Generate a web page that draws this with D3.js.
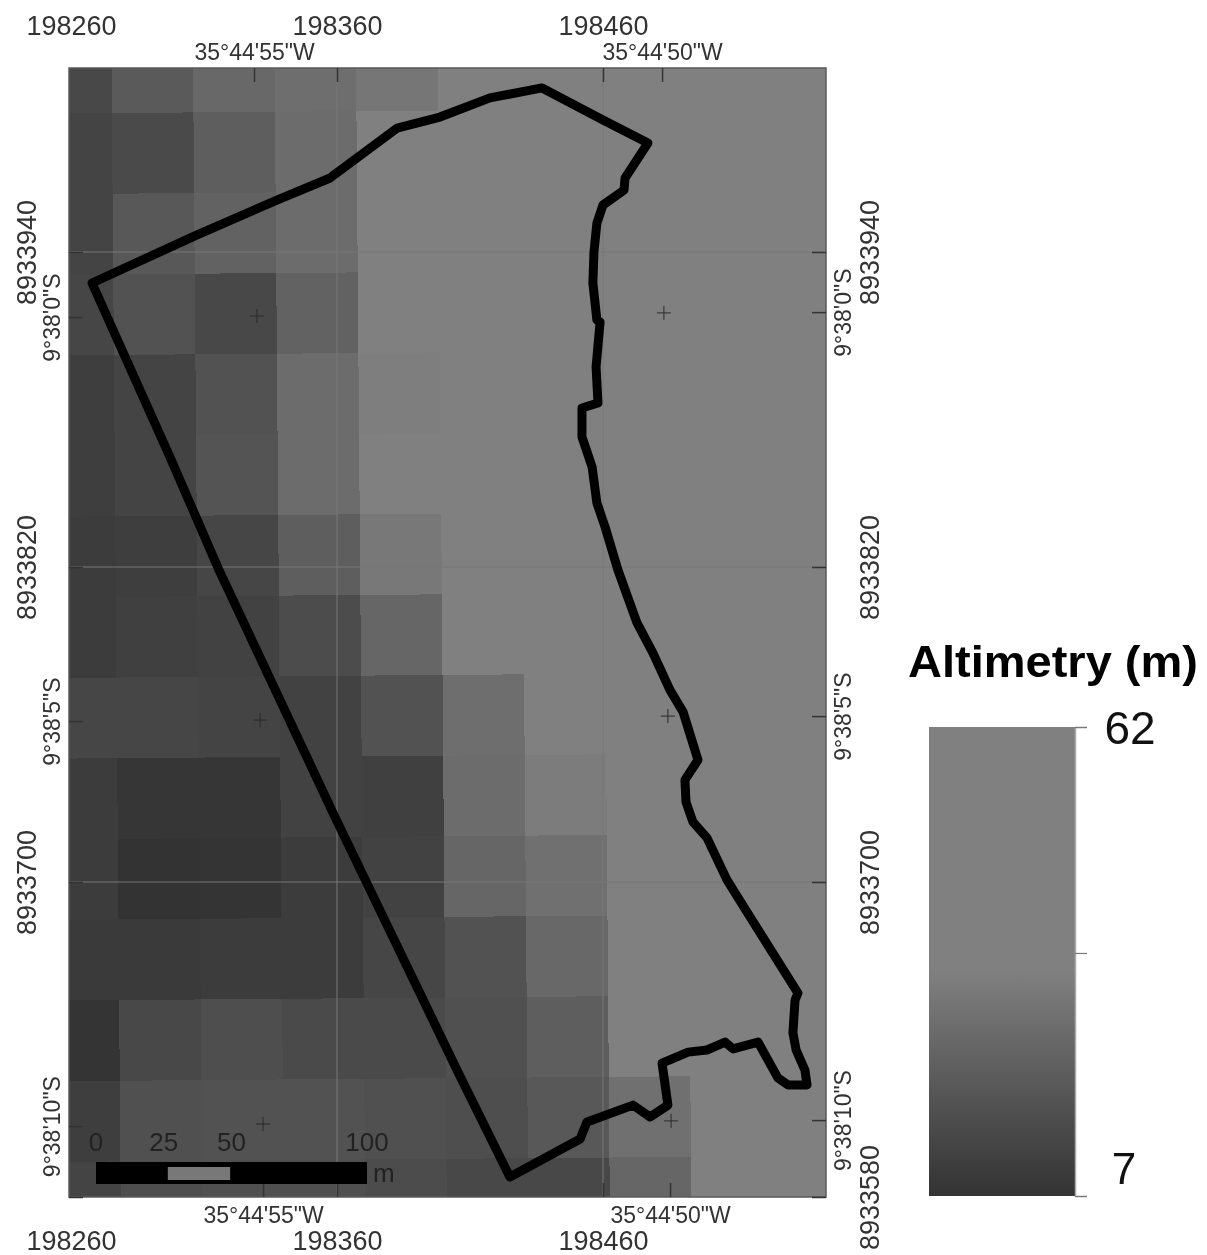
<!DOCTYPE html>
<html>
<head>
<meta charset="utf-8">
<script src="https://cdnjs.cloudflare.com/ajax/libs/d3/7.8.5/d3.min.js"></script>
<style>
    html, body { margin: 0; padding: 0; background: #fff; }
    svg { display: block; filter: blur(0.5px); }
    text { font-family: "Liberation Sans", Arial, sans-serif; fill: #333; }
    .tick line { stroke: #333; stroke-width: 1.5; }
</style>
</head>
<body>
<svg id="map_svg" width="1207" height="1255"></svg>
<script>
// altitude (m) of each raster cell, one list per row, north to south
const altitudeRows = [
    [14.2, 20.4, 25.2, 27.3, 30.0, 40, 48, 48, 48, 48],
    [12.8, 14.9, 21.8, 26.6, 48, 48, 48, 48, 48, 48],
    [12.8, 19.7, 23.2, 26.6, 48, 48, 48, 48, 48, 48],
    [13.5, 17.7, 14.2, 23.2, 48, 48, 48, 48, 48, 48],
    [10.8, 12.8, 17.7, 26.6, 32.8, 48, 48, 48, 48, 48],
    [10.8, 12.8, 18.4, 26.6, 40, 48, 48, 48, 48, 48],
    [10.1, 10.8, 13.5, 21.8, 30.7, 48, 48, 48, 48, 48],
    [10.1, 11.5, 12.2, 15.6, 24.5, 40, 48, 48, 48, 48],
    [13.5, 13.5, 12.8, 12.2, 17.7, 27.3, 48, 48, 48, 48],
    [10.1, 8.0, 8.0, 12.2, 11.5, 26.6, 32.1, 48, 48, 48],
    [10.1, 7.0, 7.3, 10.1, 12.2, 24.5, 28.0, 48, 48, 48],
    [9.4, 9.4, 10.1, 10.1, 13.5, 17.7, 25.2, 48, 48, 48],
    [7.3, 14.2, 16.3, 14.9, 14.9, 17.0, 21.8, 48, 48, 48],
    [10.8, 17.0, 17.7, 17.7, 17.0, 16.3, 19.7, 28.0, 48, 48],
    [12.8, 16.3, 17.0, 17.0, 15.6, 14.2, 14.2, 24.5, 48, 48]
];

// study area boundary (UTM easting / northing)
const boundaryE = [198267.9, 198307.4, 198337.4, 198357.4, 198382.6, 198398.7, 198417.5, 198437.1, 198460, 198476.9,
    198468.3, 198467.9, 198460, 198457.7, 198456.6, 198456.2, 198457.7, 198458.9, 198457.4, 198458.1,
    198452.1, 198452.1, 198455.9, 198457.7, 198460.8, 198465.6, 198472.8, 198478.8, 198485.2, 198490.1,
    198495.7, 198490.8, 198491.2, 198493.8, 198499.1, 198506.6, 198514.1, 198533.3, 198532.2, 198531.4,
    198532.6, 198535.9, 198536.7, 198529.6, 198525.8, 198518.3, 198508.9, 198505.9, 198499.1, 198492,
    198482.2, 198484.4, 198477.7, 198471.3, 198454, 198451.4, 198425, 198405.1, 198359.2, 198315.3, 198297.2];
const boundaryN = [8933928.2, 8933946.5, 8933959.8, 8933968.2, 8933987.2, 8933991.4, 8933998.7, 8934002.5, 8933990.3, 8933981.5,
    8933968.2, 8933963.6, 8933957.9, 8933951, 8933940, 8933928.2, 8933914.1, 8933913.3, 8933896.2, 8933882.5,
    8933880.6, 8933869.5, 8933858.1, 8933844.4, 8933835.2, 8933818.9, 8933798.7, 8933787.2, 8933773.1, 8933764.8,
    8933746.5, 8933738.9, 8933730.5, 8933722.9, 8933716.8, 8933700.8, 8933688.6, 8933657.7, 8933655, 8933642.5,
    8933636, 8933628.4, 8933622.7, 8933622.7, 8933625.3, 8933639, 8933636.4, 8933639, 8933636, 8933635.2,
    8933631, 8933615, 8933610.5, 8933615, 8933608.6, 8933602.1, 8933587.6, 8933628.4, 8933724.8, 8933819.6, 8933861.9];

// UTM ticks
const eastTicks = [198260, 198360, 198460];
const northLeftTicks = [8933940, 8933820, 8933700, 8933580];
const northRightTicks = [8933940, 8933820, 8933700, 8933580];

// geographic ticks, same position in UTM
const lonTopE = [198328.8, 198482.2];
const lonBottomE = [198332.2, 198485.2];
const lonLabels = ['35°44\'55"W', '35°44\'50"W'];
const latLeftN = [8933915.2, 8933761.3, 8933607];
const latRightN = [8933917.1, 8933763.2, 8933609.3];
const latLabels = ['9°38\'0"S', '9°38\'5"S', '9°38\'10"S'];
const crossE = [198329.9, 198482.9, 198331.1, 198484.4, 198332.2, 198485.6];
const crossN = [8933915.6, 8933916.8, 8933761.7, 8933763.2, 8933607.8, 8933609];

const scaleBarTicks = [0, 25, 50, 100];
const legendAltitudes = [7, 33.5, 62];
const legendTicks = [62, 35.5, 7];

const svg = d3.select("#map_svg");
const frame = {left: 69, right: 826, top: 68, bottom: 1197};

const x = d3.scaleLinear().domain([198260, 198460]).range([71, 603]);
const y = d3.scaleLinear().domain([8933580, 8933940]).range([frame.bottom, 252]);
const gray = d3.scaleLinear().domain([7, 33.5]).range(["#333333", "#808080"]).clamp(true);

svg.append("clipPath").attr("id", "frame_clip").append("rect")
    .attr("x", frame.left).attr("y", frame.top)
    .attr("width", frame.right - frame.left).attr("height", frame.bottom - frame.top);

let g = svg.append("g").attr("clip-path", "url(#frame_clip)");

// raster cells, grid is slightly rotated against UTM
const cellE = 30.64, cellN = 30.72, originE = 198244.5, originN = 8934023.4, skew = 0.008;
function corner(col, row) {
    return [x(originE + col * cellE + row * cellN * skew), y(originN - row * cellN + col * cellE * skew)];
}
altitudeRows.forEach(function (values, row) {
    g.append("g").selectAll("path").data(values).join("path")
        .attr("d", (d, col) => "M" + [corner(col, row), corner(col + 1, row), corner(col + 1, row + 1), corner(col, row + 1)].join("L") + "Z")
        .attr("fill", d => gray(d))
        .attr("shape-rendering", "crispEdges");
});

// UTM grid lines
g.append("g").selectAll("line").data(eastTicks.slice(1)).join("line")
    .attr("x1", d => x(d)).attr("x2", d => x(d)).attr("y1", frame.top).attr("y2", frame.bottom)
    .attr("stroke", "#777").attr("stroke-width", 1);
g.append("g").selectAll("line").data(northLeftTicks.slice(0, 3)).join("line")
    .attr("x1", frame.left).attr("x2", frame.right).attr("y1", d => y(d)).attr("y2", d => y(d))
    .attr("stroke", "#777").attr("stroke-width", 1);

// lat/lon crosses
g.append("g").selectAll("path").data(crossE).join("path")
    .attr("d", (d, i) => {
        let cx = x(d), cy = y(crossN[i]);
        return "M" + (cx - 7) + "," + cy + "H" + (cx + 7) + "M" + cx + "," + (cy - 7) + "V" + (cy + 7);
    })
    .attr("stroke", "#2a2a2a").attr("stroke-width", 1).attr("fill", "none");

// boundary
g.append("path")
    .datum(boundaryE.map((d, i) => [x(d), y(boundaryN[i])]))
    .attr("d", d3.line().curve(d3.curveLinearClosed))
    .attr("fill", "none")
    .attr("stroke", "#000")
    .attr("stroke-width", 9)
    .attr("stroke-linejoin", "round");

// frame
svg.append("rect")
    .attr("x", frame.left).attr("y", frame.top)
    .attr("width", frame.right - frame.left).attr("height", frame.bottom - frame.top)
    .attr("fill", "none").attr("stroke", "#5a5a5a").attr("stroke-width", 1.5);

function drawAxis(axis, transform, values, padding, size, format) {
    let a = svg.append("g").attr("transform", transform)
        .call(axis.tickValues(values).tickSizeInner(-14).tickSizeOuter(0).tickPadding(padding).tickFormat(format));
    a.select(".domain").remove();
    a.selectAll("text").style("font-size", size + "px").style("fill", "#333");
    a.selectAll(".tick line").filter(d => d === 198260).remove();
    return a;
}
function rotateLabels(a, offset) {
    a.selectAll("text")
        .attr("x", offset).attr("dy", "0.35em")
        .attr("text-anchor", "middle")
        .attr("transform", "rotate(-90 " + offset + " 0)");
}
function byIndex(list, values) {
    return d => list[values.indexOf(d)];
}

// UTM axes
drawAxis(d3.axisTop(x), "translate(0," + frame.top + ")", eastTicks, 33, 27, d3.format("d"));
drawAxis(d3.axisBottom(x), "translate(0," + frame.bottom + ")", eastTicks, 34, 27, d3.format("d"));
let leftUtm = drawAxis(d3.axisLeft(y), "translate(" + frame.left + ",0)", northLeftTicks, 30, 27, d => d === 8933580 ? "" : d);
rotateLabels(leftUtm, -42);
let rightUtm = drawAxis(d3.axisRight(y), "translate(" + frame.right + ",0)", northRightTicks, 30, 27, d3.format("d"));
rotateLabels(rightUtm, 44);

// lat/lon axes
drawAxis(d3.axisTop(x), "translate(0," + frame.top + ")", lonTopE, 8, 23, byIndex(lonLabels, lonTopE));
drawAxis(d3.axisBottom(x), "translate(0," + frame.bottom + ")", lonBottomE, 10, 23, byIndex(lonLabels, lonBottomE));
let leftGeo = drawAxis(d3.axisLeft(y), "translate(" + frame.left + ",0)", latLeftN, 9, 23, byIndex(latLabels, latLeftN));
rotateLabels(leftGeo, -17);
let rightGeo = drawAxis(d3.axisRight(y), "translate(" + frame.right + ",0)", latRightN, 9, 23, byIndex(latLabels, latRightN));
rotateLabels(rightGeo, 17);

// scale bar
const bar = d3.scaleLinear().domain([0, 100]).range([96, 367]);
svg.append("rect").attr("x", bar(0)).attr("y", 1162).attr("width", bar(100) - bar(0)).attr("height", 22).attr("fill", "#000");
svg.append("rect").attr("x", bar(26.5)).attr("y", 1167).attr("width", bar(49.5) - bar(26.5)).attr("height", 13).attr("fill", "#787878");
svg.append("g").selectAll("text").data(scaleBarTicks).join("text")
    .attr("x", d => bar(d)).attr("y", 1151)
    .attr("text-anchor", "middle")
    .style("font-size", "26px").style("fill", "#222")
    .text(d => d);
svg.append("text").attr("x", 373).attr("y", 1182).style("font-size", "26px").style("fill", "#222").text("m");

// legend
const legendY = d3.scaleLinear().domain([7, 62]).range([1196, 727]);
let grad = svg.append("defs").append("linearGradient").attr("id", "legend_grad")
    .attr("x1", 0).attr("x2", 0).attr("y1", 1).attr("y2", 0);
grad.selectAll("stop").data(legendAltitudes).join("stop")
    .attr("offset", d => (d - 7) / 55)
    .attr("stop-color", d => gray(d));
svg.append("rect").attr("x", 929).attr("y", legendY(62)).attr("width", 146).attr("height", legendY(7) - legendY(62))
    .attr("fill", "url(#legend_grad)");
let legendAxis = svg.append("g").attr("transform", "translate(1075,0)")
    .call(d3.axisRight(legendY).tickValues(legendTicks).tickSize(12).tickFormat(""));
legendAxis.select(".domain").attr("stroke", "#aaa").attr("stroke-width", 1.5);
legendAxis.selectAll(".tick line").style("stroke", "#777").style("stroke-width", 1.2);

svg.append("text").attr("x", 1130).attr("y", legendY(62)).attr("dy", "0.36em")
    .attr("text-anchor", "middle").style("font-size", "46px").style("fill", "#111").text("62");
svg.append("text").attr("x", 1124).attr("y", legendY(7) - 28).attr("dy", "0.36em")
    .attr("text-anchor", "middle").style("font-size", "44px").style("fill", "#111").text("7");
svg.append("text").attr("x", 1053).attr("y", 677)
    .attr("text-anchor", "middle").attr("textLength", 290).attr("lengthAdjust", "spacingAndGlyphs")
    .style("font-size", "45px").style("font-weight", "bold").style("fill", "#000")
    .text("Altimetry (m)");
</script>
</body>
</html>
